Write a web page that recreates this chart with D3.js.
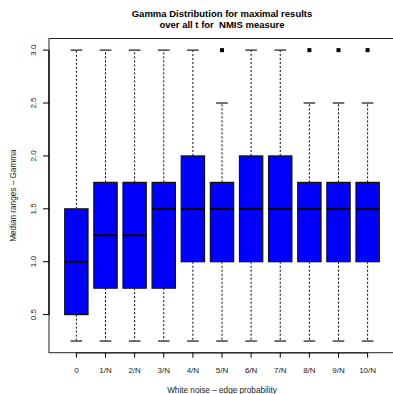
<!DOCTYPE html>
<html>
<head>
<meta charset="utf-8">
<script src="https://cdn.jsdelivr.net/npm/d3@7"></script>
<style>
  body { margin: 0; background: #fff; }
  svg { display: block; font-family: "Liberation Sans", Arial, sans-serif; }
</style>
</head>
<body>
<div id="chart"></div>
<script>
// boxplot stats per white noise level
const categories = ["0", "1/N", "2/N", "3/N", "4/N", "5/N", "6/N", "7/N", "8/N", "9/N", "10/N"]
const lowWhisker = [0.25, 0.25, 0.25, 0.25, 0.25, 0.25, 0.25, 0.25, 0.25, 0.25, 0.25]
const lowerQuartile = [0.5, 0.75, 0.75, 0.75, 1.0, 1.0, 1.0, 1.0, 1.0, 1.0, 1.0]
const medians = [1.0, 1.25, 1.25, 1.5, 1.5, 1.5, 1.5, 1.5, 1.5, 1.5, 1.5]
const upperQuartile = [1.5, 1.75, 1.75, 1.75, 2.0, 1.75, 2.0, 2.0, 1.75, 1.75, 1.75]
const highWhisker = [3.0, 3.0, 3.0, 3.0, 3.0, 2.5, 3.0, 3.0, 2.5, 2.5, 2.5]
const outliers = [[], [], [], [], [], [3.0], [], [], [3.0], [3.0], [3.0]]
const yTicks = [0.5, 1.0, 1.5, 2.0, 2.5, 3.0]

const width = 393, height = 394
const plot = { left: 49, right: 395, top: 38.5, bottom: 352.7 }

const svg = d3.select("#chart").append("svg")
  .attr("width", width)
  .attr("height", height)

// R style: positions 1..n, xlim 0.5..n+0.5 plus 4%
const n = categories.length
const x = d3.scaleLinear()
  .domain([0.5 - 0.04 * n, n + 0.5 + 0.04 * n])
  .range([plot.left, plot.right])

const y = d3.scaleLinear()
  .domain([0.25 - 0.04 * 2.75, 3.0 + 0.04 * 2.75])
  .range([plot.bottom, plot.top])

const stats = categories.map((c, i) => ({
  label: c,
  pos: i + 1,
  lo: lowWhisker[i],
  q1: lowerQuartile[i],
  med: medians[i],
  q3: upperQuartile[i],
  hi: highWhisker[i],
  out: outliers[i]
}))

const boxW = (x(1.4) - x(0.6))
const capW = boxW / 2

const g = svg.append("g")

const box = g.selectAll("g.box")
  .data(stats)
  .join("g")
    .attr("class", "box")

// whiskers
box.append("line")
  .attr("x1", d => x(d.pos)).attr("x2", d => x(d.pos))
  .attr("y1", d => y(d.q3)).attr("y2", d => y(d.hi))
  .attr("stroke", "#000").attr("stroke-width", 1)
  .attr("stroke-dasharray", "2,2")
box.append("line")
  .attr("x1", d => x(d.pos)).attr("x2", d => x(d.pos))
  .attr("y1", d => y(d.q1)).attr("y2", d => y(d.lo))
  .attr("stroke", "#000").attr("stroke-width", 1)
  .attr("stroke-dasharray", "2,2")

// staples
box.selectAll("line.cap")
  .data(d => [d.lo, d.hi].map(v => ({ pos: d.pos, v: v })))
  .join("line")
    .attr("class", "cap")
    .attr("x1", d => x(d.pos) - capW / 2).attr("x2", d => x(d.pos) + capW / 2)
    .attr("y1", d => y(d.v)).attr("y2", d => y(d.v))
    .attr("stroke", "#444").attr("stroke-width", 1.5)

// boxes
box.append("rect")
  .attr("x", d => x(d.pos) - boxW / 2)
  .attr("width", boxW)
  .attr("y", d => y(d.q3))
  .attr("height", d => y(d.q1) - y(d.q3))
  .attr("fill", "#0000ff")
  .attr("stroke", "#111")
  .attr("stroke-width", 1.2)

// medians
box.append("line")
  .attr("x1", d => x(d.pos) - boxW / 2).attr("x2", d => x(d.pos) + boxW / 2)
  .attr("y1", d => y(d.med)).attr("y2", d => y(d.med))
  .attr("stroke", "#000").attr("stroke-width", 2)

// outliers
box.selectAll("rect.out")
  .data(d => d.out.map(v => ({ pos: d.pos, v: v })))
  .join("rect")
    .attr("class", "out")
    .attr("x", d => x(d.pos) - 2)
    .attr("y", d => y(d.v) - 2)
    .attr("width", 4).attr("height", 4)
    .attr("fill", "#000")

// frame
svg.append("rect")
  .attr("x", plot.left).attr("y", plot.top)
  .attr("width", plot.right - plot.left)
  .attr("height", plot.bottom - plot.top)
  .attr("fill", "none").attr("stroke", "#222").attr("stroke-width", 1)

// y axis (R style)
const yAxis = svg.append("g")
yAxis.append("line")
  .attr("x1", plot.left).attr("x2", plot.left)
  .attr("y1", y(yTicks[0])).attr("y2", y(yTicks[yTicks.length - 1]))
  .attr("stroke", "#333").attr("stroke-width", 2)
yAxis.selectAll("line.tick")
  .data(yTicks)
  .join("line")
    .attr("class", "tick")
    .attr("x1", plot.left - 6).attr("x2", plot.left)
    .attr("y1", d => y(d)).attr("y2", d => y(d))
    .attr("stroke", "#000")
yAxis.selectAll("text")
  .data(yTicks)
  .join("text")
    .attr("transform", d => "translate(" + 35.5 + "," + y(d) + ") rotate(-90)")
    .attr("text-anchor", "middle")
    .attr("font-size", 8)
    .attr("fill", "#222")
    .text(d => d.toFixed(1))

// x axis
const xAxis = svg.append("g")
xAxis.append("line")
  .attr("x1", x(1)).attr("x2", x(n))
  .attr("y1", plot.bottom).attr("y2", plot.bottom)
  .attr("stroke", "#333").attr("stroke-width", 1.5)
xAxis.selectAll("line.tick")
  .data(stats)
  .join("line")
    .attr("class", "tick")
    .attr("x1", d => x(d.pos)).attr("x2", d => x(d.pos))
    .attr("y1", plot.bottom).attr("y2", plot.bottom + 5)
    .attr("stroke", "#000")
xAxis.selectAll("text")
  .data(stats)
  .join("text")
    .attr("x", d => x(d.pos))
    .attr("y", 372.5)
    .attr("text-anchor", "middle")
    .attr("font-size", 8)
    .attr("fill", "#222")
    .text(d => d.label)

// titles
svg.append("text")
  .attr("x", 222).attr("y", 17)
  .attr("text-anchor", "middle")
  .attr("font-size", 9.5).attr("font-weight", "bold")
  .text("Gamma Distribution for maximal results")
svg.append("text")
  .attr("x", 222).attr("y", 28)
  .attr("text-anchor", "middle")
  .attr("font-size", 9.5).attr("font-weight", "bold")
  .attr("xml:space", "preserve")
  .style("white-space", "pre")
  .text("over all t for  NMIS measure")

svg.append("text")
  .attr("x", 222).attr("y", 393)
  .attr("text-anchor", "middle")
  .attr("font-size", 8.2)
  .attr("fill", "#222")
  .text("White noise \u2013 edge probability")

svg.append("text")
  .attr("transform", "translate(15.5," + y(1.625) + ") rotate(-90)")
  .attr("text-anchor", "middle")
  .attr("font-size", 8.2)
  .attr("fill", "#222")
  .text("Median ranges \u2013 Gamma")
</script>
</body>
</html>
